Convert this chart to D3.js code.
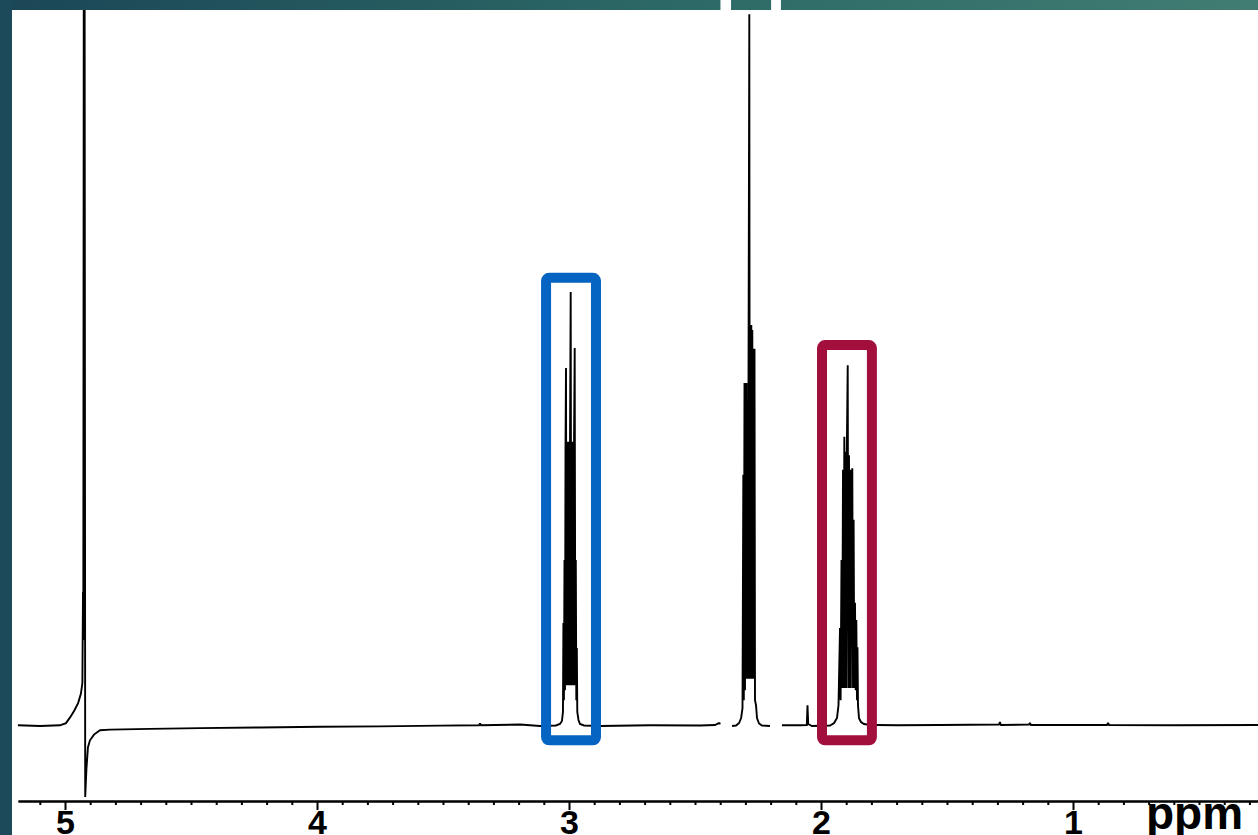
<!DOCTYPE html>
<html><head><meta charset="utf-8">
<script src="https://cdn.jsdelivr.net/npm/d3@7/dist/d3.min.js"></script>
<style>
html,body{margin:0;padding:0;background:#fff;}
svg{display:block;}
</style></head>
<body>
<svg id="chart" width="1258" height="835"></svg>
<script>
// ---- DATA (chemical shift in ppm, relative intensity; null = break in trace) ----
const ppm = [
 5.187,5.099,5.020,4.996,4.980,4.964,4.948,4.937,4.931,4.9286,4.9274,4.9254,4.9234,4.9222,4.9198,
 4.915,4.909,4.901,4.885,4.861,4.821,4.663,4.464,4.226,3.988,3.750,3.512,3.357,3.353,3.349,3.194,3.115,
 3.052,3.036,3.028,3.024,3.0222,3.0202,3.0179,3.0159,3.0139,3.0119,3.0099,3.0079,3.0060,3.0040,3.0020,
 3.0000,2.9980,2.9960,2.9933,2.9909,2.9881,2.9861,2.9841,2.9821,2.9802,2.9774,2.9750,2.9730,2.9710,
 2.9690,2.9671,2.9623,2.9563,2.9405,2.877,2.679,2.480,2.421,2.405,2.399,
 null,
 2.353,2.337,2.325,2.317,2.3115,2.3083,2.3063,2.3036,2.3016,2.2996,2.2976,2.2956,2.2937,2.2917,2.2897,
 2.2877,2.2845,2.2825,2.2806,2.2786,2.2766,2.2746,2.2726,2.2706,2.2687,2.2667,2.2639,2.2619,2.2579,
 2.2540,2.2460,2.2341,2.2024,
 null,
 2.155,2.083,2.0563,2.0536,2.0508,2.036,1.964,1.948,1.9365,1.9306,1.9246,1.9222,1.9187,1.9159,1.9127,
 1.9103,1.9075,1.9048,1.9024,1.9000,1.8976,1.8940,1.8913,1.8889,1.8865,1.8841,1.8817,1.8790,1.8758,
 1.8730,1.8706,1.8679,1.8651,1.8623,1.8599,1.8571,1.8552,1.8532,1.8492,1.8413,1.8294,1.8056,1.7778,
 1.698,1.528,1.294,1.290,1.286,1.175,1.171,1.167,0.865,0.861,0.857,0.600,0.2659
];
const intensity = [
 0.1,0.0,0.1,0.4,1.2,2.1,3.2,4.5,6.0,18.7,12.0,110,79.1,110,-9.9,
 -6.0,-3.0,-2.0,-1.2,-0.6,-0.5,-0.4,-0.3,-0.2,-0.1,-0.05,0.05,0.1,0.35,0.1,0.2,0.0,
 0.07,0.28,0.7,1.96,14.4,3.6,23.2,5.0,38.5,50.0,5.7,39.7,5.7,39.7,5.7,
 39.7,5.7,39.7,60.6,5.7,39.7,5.7,39.7,5.7,38.5,52.8,5.7,23.2,3.6,
 10.9,1.96,0.84,0.28,0.07,0.0,0.1,0.07,0.14,0.4,0.3,
 null,
 0.0,0.07,0.42,1.12,2.5,35.1,3.6,47.9,5.0,47.9,6.6,47.9,6.6,45.5,6.6,
 48.3,99.4,6.6,53.9,6.6,56.0,6.6,55.3,6.6,52.7,6.6,52.7,3.6,2.9,
 1.1,0.35,0.07,0.0,
 null,
 0.1,0.1,0.14,2.9,0.28,0.0,0.07,0.42,1.12,2.9,13.7,3.6,23.2,5.3,35.8,
 5.3,40.4,5.3,38.3,5.3,38.3,50.4,5.3,37.8,5.3,35.8,5.3,34.4,36.0,
 5.3,28.8,5.3,17.2,5.0,14.8,3.6,11.0,2.9,1.1,0.56,0.28,0.14,0.14,
 0.1,0.14,0.2,0.56,0.14,0.2,0.42,0.14,0.14,0.42,0.14,0.1,0.14
];
// highlighted multiplets (ppm range, intensity range)
const boxFrom   = [3.091, 1.996];
const boxTo     = [2.893, 1.798];
const boxTop    = [62.6, 53.2];
const boxBottom = [-2.0, -2.0];
// image cut marks (ppm ranges)
const cutFrom = [2.399, 2.198];
const cutTo   = [2.357, 2.159];
// axis ticks
const majorTicks = [5, 4, 3, 2, 1];
const tickLabels = ["5", "4", "3", "2", "1"];
const minorTicks = [5.1,4.9,4.8,4.7,4.6,4.5,4.4,4.3,4.2,4.1,3.9,3.8,3.7,3.6,3.5,3.4,3.3,3.2,3.1,
  2.9,2.8,2.7,2.6,2.5,2.4,2.3,2.2,2.1,1.9,1.8,1.7,1.6,1.5,1.4,1.3,1.2,1.1,0.9,0.8,0.7,0.6,0.5,0.4,0.3];
const axisTitle = "ppm";

// ---- DRAWING ----
const W = 1258, H = 835;
const svg = d3.select("#chart");
const x = d3.scaleLinear().domain([5.1865, 0.2659]).range([18, 1258]);
const y = d3.scaleLinear().domain([0, 100]).range([726, 10]);

svg.append("rect").attr("width", W).attr("height", H).attr("fill", "#ffffff");

const pts = ppm.map((p, k) => ({p: p, i: intensity[k]}));
const line = d3.line().defined(d => d.p !== null && d.i !== null)
  .x(d => x(d.p)).y(d => y(d.i));
svg.append("path").datum(pts).attr("d", line)
  .attr("fill", "none").attr("stroke", "#000").attr("stroke-width", 1.9)
  .attr("stroke-linejoin", "miter").attr("stroke-miterlimit", 2);

// boxes
const boxColors = ["#0563c1", "#a30f3c"];
boxFrom.forEach((b, k) => {
  svg.append("rect")
    .attr("x", x(boxFrom[k])).attr("y", y(boxTop[k]))
    .attr("width", x(boxTo[k]) - x(boxFrom[k]))
    .attr("height", y(boxBottom[k]) - y(boxTop[k]))
    .attr("rx", 3).attr("fill", "none")
    .attr("stroke", boxColors[k]).attr("stroke-width", 10);
});

// background frame (slide)
const defs = svg.append("defs");
const grad = defs.append("linearGradient").attr("id", "tg").attr("x1", 0).attr("x2", 1).attr("y1", 0).attr("y2", 0);
grad.append("stop").attr("offset", "0%").attr("stop-color", "#1b4656");
grad.append("stop").attr("offset", "55%").attr("stop-color", "#2d6a67");
grad.append("stop").attr("offset", "100%").attr("stop-color", "#417d72");
svg.append("rect").attr("x", 0).attr("y", 0).attr("width", W).attr("height", 10).attr("fill", "url(#tg)");
svg.append("rect").attr("x", 0).attr("y", 0).attr("width", 12).attr("height", H).attr("fill", "#1c4a5a");
cutFrom.forEach((c, k) => {
  svg.append("rect").attr("x", x(cutFrom[k])).attr("y", 0)
    .attr("width", x(cutTo[k]) - x(cutFrom[k])).attr("height", 10).attr("fill", "#fff");
});

// axes
const axisY = 801;
const gMinor = svg.append("g").attr("transform", `translate(0,${axisY})`)
  .call(d3.axisBottom(x).tickValues(minorTicks).tickSize(4).tickSizeOuter(0).tickFormat(""));
const gMajor = svg.append("g").attr("transform", `translate(0,${axisY})`)
  .call(d3.axisBottom(x).tickValues(majorTicks).tickSize(9).tickSizeOuter(0).tickPadding(0)
    .tickFormat((d, k) => tickLabels[k]));
[gMinor, gMajor].forEach(g => {
  g.select(".domain").attr("stroke", "#000").attr("stroke-width", 2.2);
  g.selectAll(".tick line").attr("stroke", "#000").attr("stroke-width", 2);
});
gMajor.selectAll(".tick text")
  .attr("fill", "#000")
  .style("font-family", "'Liberation Sans', Arial, Helvetica, sans-serif")
  .style("font-weight", "bold").style("font-size", "34px");
svg.append("text").attr("x", 1146).attr("y", 829).text(axisTitle)
  .attr("fill", "#000")
  .style("font-family", "'Liberation Sans', Arial, Helvetica, sans-serif")
  .style("font-weight", "bold").style("font-size", "46px");
</script>
</body></html>
